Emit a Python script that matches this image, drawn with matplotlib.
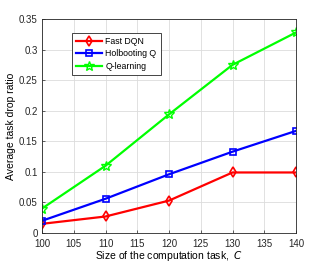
import matplotlib
matplotlib.use("Agg")
import matplotlib.pyplot as plt

task_size = [100, 110, 120, 130, 140]
fast_dqn = [0.015, 0.027, 0.053, 0.099, 0.099]
holbooting_q = [0.020, 0.056, 0.096, 0.133, 0.167]
q_learning = [0.040, 0.110, 0.194, 0.275, 0.328]

plt.rcParams['font.family'] = ['Liberation Sans', 'DejaVu Sans']
plt.rcParams['font.size'] = 7

fig = plt.figure(figsize=(3.27, 2.62), dpi=100)
ax = fig.add_axes([42 / 327, 1 - 233 / 262, (296 - 42) / 327, (233 - 19) / 262])

ax.plot(task_size, fast_dqn, color='#ff0000', lw=1.6, marker='d', ms=5,
        mfc='none', mew=1.2, label='Fast DQN')
ax.plot(task_size, holbooting_q, color='#0000ff', lw=1.6, marker='s', ms=4,
        mfc='none', mew=1.2, label='Holbooting Q')
ax.plot(task_size, q_learning, color='#00ff00', lw=1.6, marker='*', ms=7,
        mfc='none', mew=1.0, label='Q-learning')

ax.set_xlim(100, 140)
ax.set_ylim(0, 0.35)
ax.set_xticks(range(100, 141, 5))
ax.set_yticks([0, 0.05, 0.1, 0.15, 0.2, 0.25, 0.3, 0.35])
ax.set_yticklabels(['0', '0.05', '0.1', '0.15', '0.2', '0.25', '0.3', '0.35'])
ax.grid(True, color='#dcdcdc', lw=0.6)
ax.set_axisbelow(True)
ax.tick_params(direction='in', length=2.5, width=0.5, colors='#262626')
ax.tick_params(axis='x', pad=4)
ax.tick_params(axis='y', pad=3)
for s in ax.spines.values():
    s.set_linewidth(0.6)
    s.set_color('#262626')

ax.set_xlabel('Size of the computation task,  $C$', fontsize=7.5, labelpad=0)
ax.set_ylabel('Average task drop ratio', fontsize=7.5, labelpad=2)

leg = ax.legend(loc='upper left', bbox_to_anchor=(0.1, 0.955), fancybox=False,
                edgecolor='#262626', framealpha=1, fontsize=6.3, handlelength=3,
                borderpad=0.45, labelspacing=0.4, handletextpad=0.4)
leg.get_frame().set_linewidth(0.6)

fig.savefig('out.png', dpi=100)
